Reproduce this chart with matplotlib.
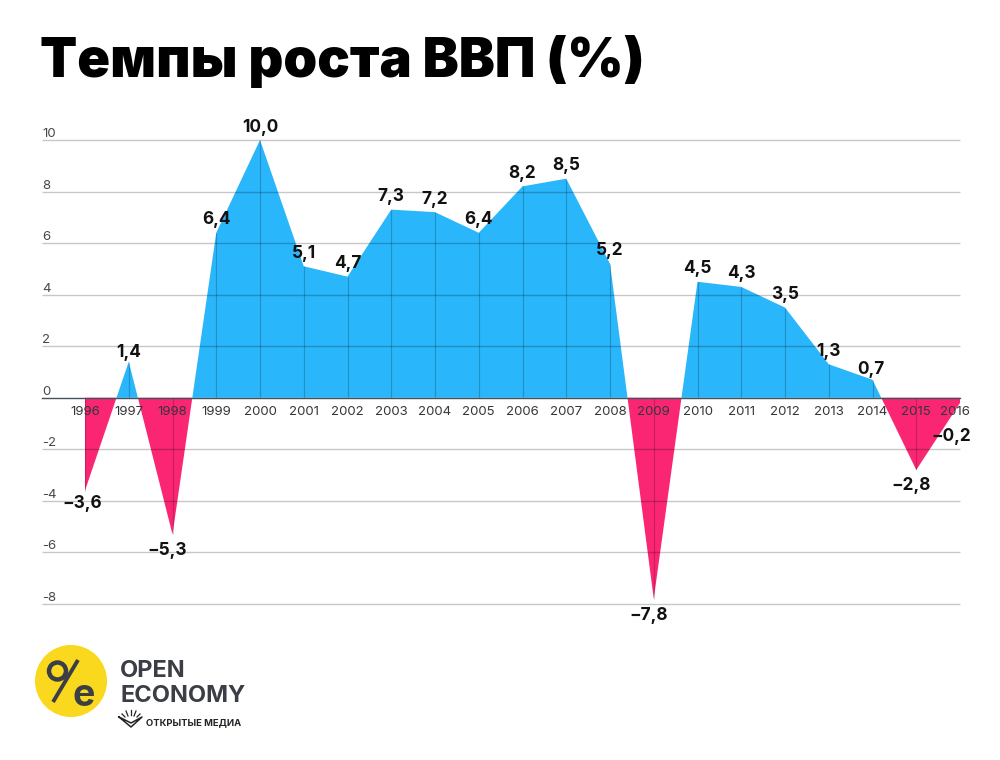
import numpy as np
import matplotlib
matplotlib.use("Agg")
import matplotlib.pyplot as plt
from matplotlib.patches import Circle
from matplotlib.transforms import ScaledTranslation

years = [1996,1997,1998,1999,2000,2001,2002,2003,2004,2005,2006,2007,2008,2009,2010,2011,2012,2013,2014,2015,2016]
growth = [-3.6,1.4,-5.3,6.4,10.0,5.1,4.7,7.3,7.2,6.4,8.2,8.5,5.2,-7.8,4.5,4.3,3.5,1.3,0.7,-2.8,-0.2]
y_ticks = [-8,-6,-4,-2,0,2,4,6,8,10]
title = "Темпы роста ВВП (%)"

BLUE, PINK = "#29b6fb", "#fa2673"
DARK = "#3b3e44"
plt.rcParams["font.family"] = ["Inter", "DejaVu Sans"]

W, H = 1000, 760
fig = plt.figure(figsize=(W/100, H/100), dpi=100, facecolor="white")
ax = fig.add_axes([42/W, 1-604/H, (960-42)/W, (604-140)/H])
ax.patch.set_alpha(0)
ax.set_xlim(1996-(85-42)/43.75, 2016)
ax.set_ylim(-8, 10)

x = np.array(years, float); y = np.array(growth, float)
ax.fill_between(x, y, 0, where=y >= 0, interpolate=True, color=BLUE, lw=0, zorder=1, clip_on=False)
ax.fill_between(x, y, 0, where=y <= 0, interpolate=True, color=PINK, lw=0, zorder=1, clip_on=False)
ax.vlines(x, 0, y, color="#000000", alpha=0.2, lw=0.8, zorder=1.5)
ax.hlines([v for v in y_ticks if v != 0], ax.get_xlim()[0], ax.get_xlim()[1],
          color="#000000", alpha=0.22, lw=1, zorder=1.6, clip_on=False)

ax.set_yticks(y_ticks, [str(v) for v in y_ticks])
ax.set_xticks(years, [str(v) for v in years])
ax.set_axisbelow(False)
for s in ("top", "left", "right"):
    ax.spines[s].set_visible(False)
ax.spines["bottom"].set_position(("data", 0))
ax.spines["bottom"].set_color("#44505a")
ax.spines["bottom"].set_linewidth(1)
ax.tick_params(axis="both", length=0, labelsize=9.5, labelcolor="#33363a")
ax.tick_params(axis="x", pad=6)
ax.tick_params(axis="y", pad=0)
for t in ax.get_yticklabels():
    t.set_ha("left"); t.set_va("bottom"); t.set_color("#44474c")
last = ax.get_xticklabels()[-1]
last.set_transform(last.get_transform() + ScaledTranslation(-5/100, 0, fig.dpi_scale_trans))

special = {1996: (-3, -13), 1997: (0, 9), 2009: (-5, -17), 2014: (-2, 10), 2016: (-9, -34)}
for yr, v in zip(years, growth):
    txt = f"{abs(v):.1f}".replace(".", ",")
    if v < 0:
        txt = "−" + txt
    off = special.get(yr, (-5, -16) if v < 0 else (0, 13))
    ax.annotate(txt, (yr, v), xytext=off, textcoords="offset pixels", ha="center", va="center",
                fontsize=12.4, fontweight="bold", color="#111111", zorder=6, annotation_clip=False)

# overlay in pixel coordinates for title and logo
ov = fig.add_axes([0, 0, 1, 1])
ov.set_xlim(0, W); ov.set_ylim(H, 0); ov.axis("off"); ov.patch.set_alpha(0)
ov.text(40, 77, title, fontsize=39, fontweight="black", color="#000000", ha="left", va="baseline")

ov.add_patch(Circle((71, 681), 36, color="#f9d81e", lw=0))
ov.add_patch(Circle((57.5, 671), 8.5, fill=False, ec=DARK, lw=3.2))
ov.text(84, 692, "e", fontsize=27, fontweight="bold", color=DARK, ha="center", va="center_baseline")
ov.plot([78, 53], [660, 702], color=DARK, lw=2.8, solid_capstyle="butt")
ov.text(120, 677, "OPEN", fontsize=17, fontweight="bold", color=DARK, ha="left", va="baseline")
ov.text(120, 702, "ECONOMY", fontsize=17, fontweight="bold", color=DARK, ha="left", va="baseline")
ov.text(146, 725, "ОТКРЫТЫЕ МЕДИА", fontsize=6.8, fontweight="bold", color="#222428", ha="left", va="baseline")
ov.plot([119, 131, 142, 131, 119], [717, 723, 717, 727, 717], color="#222428", lw=1.1)
for a, b, c, d in [(122,714,125,717),(126,711,128,716),(131,710,131,715),(136,711,134,716),(140,714,137,717)]:
    ov.plot([a, c], [b, d], color="#222428", lw=0.9)

fig.savefig("out.png", dpi=100, facecolor="white")
